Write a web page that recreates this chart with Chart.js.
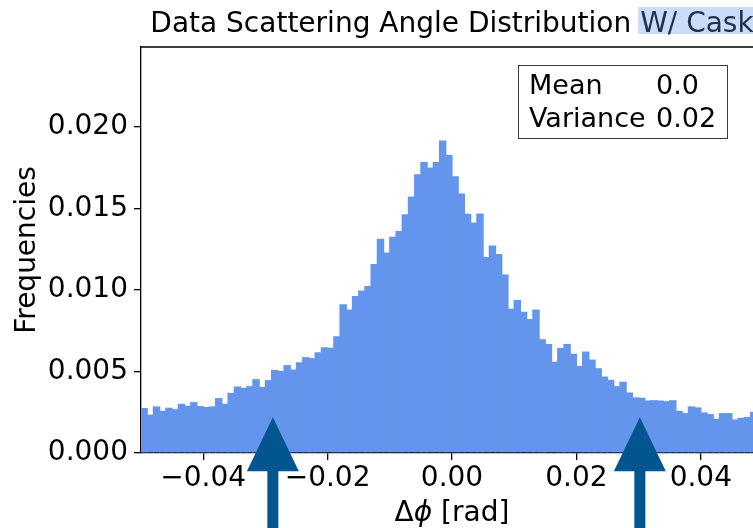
<!DOCTYPE html>
<html>
<head>
<meta charset="utf-8">
<script src="https://cdn.jsdelivr.net/npm/chart.js@4"></script>
<style>
  html, body { margin: 0; padding: 0; background: #fff; overflow: hidden; }
  #wrap { width: 800px; height: 528px; }
</style>
</head>
<body>
<div id="wrap"><canvas id="hist" width="800" height="528"></canvas></div>
<script>
// histogram binning (100 bins of 1 mrad over [-0.05, 0.05])
const BIN_START = -0.05;
const BIN_WIDTH = 0.001;

const FREQUENCIES = [
  0.00276, 0.00235, 0.00286, 0.00259, 0.00278, 0.00269, 0.00302, 0.00290, 0.00312, 0.00288,
  0.00282, 0.00286, 0.00337, 0.00302, 0.00369, 0.00408, 0.00400, 0.00410, 0.00453, 0.00406,
  0.00447, 0.00510, 0.00504, 0.00539, 0.00512, 0.00557, 0.00588, 0.00582, 0.00618, 0.00649,
  0.00645, 0.00716, 0.00912, 0.00880, 0.00963, 0.00996, 0.01024, 0.01159, 0.01314, 0.01229,
  0.01327, 0.01361, 0.01465, 0.01573, 0.01710, 0.01784, 0.01751, 0.01784, 0.01916, 0.01827,
  0.01698, 0.01592, 0.01467, 0.01414, 0.01469, 0.01202, 0.01273, 0.01220, 0.01094, 0.00884,
  0.00939, 0.00867, 0.00822, 0.00880, 0.00698, 0.00669, 0.00559, 0.00645, 0.00669, 0.00608,
  0.00533, 0.00622, 0.00573, 0.00520, 0.00469, 0.00449, 0.00410, 0.00437, 0.00371, 0.00341,
  0.00339, 0.00322, 0.00324, 0.00322, 0.00318, 0.00324, 0.00259, 0.00245, 0.00286, 0.00280,
  0.00249, 0.00239, 0.00210, 0.00245, 0.00245, 0.00206, 0.00216, 0.00221, 0.00253, 0.00258
];

const X_TICKS = [-0.04, -0.02, 0.0, 0.02, 0.04];
const Y_TICKS = [0.0, 0.005, 0.010, 0.015, 0.020];

// cut markers
const ARROW_X = [-0.0288, 0.0302];
const ARROW_TIP_Y = 0.0022;

const TITLE_MAIN = "Data Scattering Angle Distribution ";
const TITLE_MARKED = "W/ Cask";
const STATS_LABELS = ["Mean", "Variance"];
const STATS_VALUES = ["0.0", "0.02"];

const FONT = '"DejaVu Sans", "Liberation Sans", sans-serif';
const FONT_SIZE = 28;
const BAR_COLOR = "#6495ED";
const ARROW_COLOR = "#03558f";

const fmt = (v, digits) => Number(v).toFixed(digits).replace("-", "\u2212");

const FRAME_PLUGIN = {
  id: "frame",
  afterDatasetsDraw: (chart) => {
    const { ctx, chartArea: a } = chart;
    ctx.save();
    ctx.strokeStyle = "#000";
    ctx.lineWidth = 1.3;
    ctx.beginPath();
    ctx.moveTo(a.left, a.top);
    ctx.lineTo(a.right, a.top);
    ctx.lineTo(a.right, a.bottom);
    ctx.stroke();
    ctx.restore();
  },
};

const DECOR_PLUGIN = {
  id: "decor",
  afterDraw: (chart) => {
    const { ctx, chartArea: a, scales } = chart;
    ctx.save();

    // title, last words marked
    ctx.font = `${FONT_SIZE}px ${FONT}`;
    ctx.textBaseline = "alphabetic";
    ctx.textAlign = "left";
    const wMain = ctx.measureText(TITLE_MAIN).width;
    const wMark = ctx.measureText(TITLE_MARKED).width;
    const tx = (a.left + a.right) / 2 - (wMain + wMark) / 2;
    ctx.fillStyle = "#cbdcf8";
    ctx.fillRect(tx + wMain - 2, 7, wMark + 4, 27);
    ctx.fillStyle = "#000";
    ctx.fillText(TITLE_MAIN, tx, 32);
    ctx.fillStyle = "#22314f";
    ctx.fillText(TITLE_MARKED, tx + wMain, 32);

    // x axis label: upright delta, italic phi
    const parts = [
      { t: "\u0394", f: `${FONT_SIZE}px ${FONT}` },
      { t: "\u03D5", f: `italic ${FONT_SIZE}px ${FONT}` },
      { t: " [rad]", f: `${FONT_SIZE}px ${FONT}` },
    ];
    let total = 0;
    parts.forEach((p) => {
      ctx.font = p.f;
      p.w = ctx.measureText(p.t).width;
      total += p.w;
    });
    let lx = (a.left + a.right) / 2 - total / 2;
    ctx.fillStyle = "#000";
    parts.forEach((p) => {
      ctx.font = p.f;
      ctx.fillText(p.t, lx, 521);
      lx += p.w;
    });

    // stats box
    ctx.font = `27px ${FONT}`;
    ctx.strokeStyle = "#3a3a3a";
    ctx.lineWidth = 1;
    ctx.strokeRect(518.5, 65.5, 209, 73);
    ctx.fillStyle = "#000";
    STATS_LABELS.forEach((lab, i) => {
      const by = 94 + i * 33;
      ctx.fillText(lab, 529, by);
      ctx.fillText(STATS_VALUES[i], 656, by);
    });

    // arrows
    ctx.fillStyle = ARROW_COLOR;
    const tipY = scales.y.getPixelForValue(ARROW_TIP_Y);
    ARROW_X.forEach((v) => {
      const x = scales.x.getPixelForValue(v);
      const baseY = tipY + 54;
      ctx.beginPath();
      ctx.moveTo(x, tipY);
      ctx.lineTo(x + 26, baseY);
      ctx.lineTo(x + 5.5, baseY);
      ctx.lineTo(x + 5.5, 540);
      ctx.lineTo(x - 5.5, 540);
      ctx.lineTo(x - 5.5, baseY);
      ctx.lineTo(x - 26, baseY);
      ctx.closePath();
      ctx.fill();
    });

    ctx.restore();
  },
};

const data = {
  datasets: [
    {
      label: "Frequencies",
      data: FREQUENCIES.map((v, i) => ({ x: BIN_START + (i + 0.5) * BIN_WIDTH, y: v })),
      backgroundColor: BAR_COLOR,
      borderWidth: 0,
      barPercentage: 1,
      // slight overlap so neighbouring bars leave no antialiasing seams
      categoryPercentage: 1.2,
    },
  ],
};

const tickFont = { family: FONT, size: FONT_SIZE };

new Chart(document.getElementById("hist"), {
  type: "bar",
  data,
  options: {
    responsive: false,
    animation: false,
    devicePixelRatio: 1,
    layout: { padding: { top: 47, right: 37, left: 0, bottom: 0 } },
    plugins: {
      legend: { display: false },
      tooltip: { enabled: false },
      title: { display: false },
    },
    scales: {
      x: {
        type: "linear",
        min: -0.05,
        max: 0.05,
        offset: false,
        afterFit: (s) => { s.height = 75; },
        afterBuildTicks: (s) => { s.ticks = X_TICKS.map((v) => ({ value: v })); },
        grid: { display: true, offset: false, drawOnChartArea: false, drawTicks: true, tickLength: 7, color: "#000", lineWidth: 1.3 },
        border: { display: true, color: "#000", width: 1.3 },
        ticks: { color: "#000", font: tickFont, padding: 2, maxRotation: 0, autoSkip: false, callback: (v) => fmt(v, 2) },
      },
      y: {
        min: 0,
        max: 0.0249,
        afterFit: (s) => { s.width = 141; },
        afterBuildTicks: (s) => { s.ticks = Y_TICKS.map((v) => ({ value: v })); },
        grid: { display: true, drawOnChartArea: false, drawTicks: true, tickLength: 7, color: "#000", lineWidth: 1.3 },
        border: { display: true, color: "#000", width: 1.3 },
        ticks: { color: "#000", font: tickFont, padding: 6, callback: (v) => fmt(v, 3) },
        title: {
          display: true,
          text: "Frequencies",
          color: "#000",
          font: { family: FONT, size: FONT_SIZE, lineHeight: 1.2 },
          padding: { top: 11, bottom: 0 },
        },
      },
    },
  },
  plugins: [FRAME_PLUGIN, DECOR_PLUGIN],
});
</script>
</body>
</html>
